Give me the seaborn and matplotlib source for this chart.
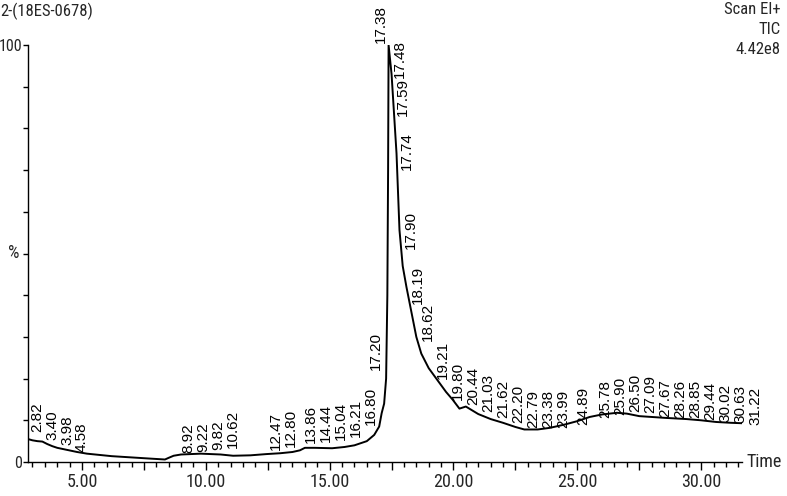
import matplotlib
matplotlib.use("Agg")
import matplotlib.pyplot as plt
import seaborn as sns
import numpy as np
import pandas as pd
from matplotlib.ticker import MultipleLocator, FuncFormatter
from matplotlib import font_manager as fm
from matplotlib.font_manager import FontProperties

# ---- data ----
time_min = [2.82, 3.0, 3.2, 3.4, 3.6, 3.8, 4.0, 4.4, 4.8, 5.2, 5.7, 6.2, 7.0, 7.8, 8.35,
            8.5, 8.7, 9.0, 9.8, 10.6, 11.1, 11.8, 12.45, 13.0, 13.5, 13.8, 14.0, 14.4,
            15.1, 15.6, 16.0, 16.5, 16.8, 17.0, 17.1, 17.2, 17.28, 17.33, 17.36, 17.38,
            17.5, 17.7, 17.82, 17.95, 18.1, 18.3, 18.5, 18.7, 19.0, 19.43, 19.7, 19.96,
            20.24, 20.5, 21.0, 21.5, 22.0, 22.5, 22.86, 23.4, 23.9, 24.5, 25.0, 25.5,
            26.0, 26.6, 27.0, 27.5, 28.0, 28.5, 29.4, 30.0, 30.6, 31.2, 31.65]
intensity_pct = [5.5, 5.2, 5.0, 4.9, 4.3, 3.8, 3.4, 2.9, 2.4, 2.0, 1.7, 1.4, 1.1, 0.8, 0.6,
                 1.0, 1.5, 1.8, 2.0, 1.8, 1.5, 1.6, 1.9, 2.1, 2.4, 2.8, 3.4, 3.4,
                 3.3, 3.6, 4.0, 5.0, 6.5, 8.5, 11.7, 14.0, 20.0, 40.0, 70.0, 100.0,
                 93.0, 74.0, 55.6, 47.0, 42.0, 36.0, 30.0, 26.0, 22.5, 19.0, 16.8, 15.0,
                 12.8, 13.3, 11.5, 10.3, 9.4, 8.4, 7.8, 7.8, 8.2, 9.0, 9.8, 10.8,
                 11.4, 11.8, 11.6, 11.0, 10.8, 10.6, 10.3, 10.0, 9.6, 9.4, 9.3]

peak_times = [2.82, 3.40, 3.98, 4.58, 8.92, 9.22, 9.82, 10.62, 12.47, 12.80, 13.86, 14.44,
              15.04, 16.21, 16.80, 17.20, 17.38, 17.48, 17.59, 17.74, 17.90, 18.19, 18.62,
              19.21, 19.80, 20.44, 21.03, 21.62, 22.20, 22.79, 23.38, 23.99, 24.89, 25.78,
              25.90, 26.50, 27.09, 27.67, 28.26, 28.85, 29.44, 30.02, 30.63, 31.22]
peak_heights = [7.2, 5.3, 4.1, 2.4, 2.2, 2.4, 2.9, 3.4, 2.9, 3.6, 4.6, 4.8,
                5.3, 6.0, 8.9, 22.0, 100.5, 92.0, 83.0, 70.0, 51.0, 38.0, 29.0,
                20.0, 14.9, 13.7, 12.0, 10.5, 9.4, 8.2, 8.2, 8.2, 8.9, 10.5,
                11.3, 12.0, 11.7, 10.8, 10.5, 10.5, 10.0, 9.6, 9.4, 8.9]

title_text = "2-(18ES-0678)"
header_lines = ["Scan EI+", "TIC", "4.42e8"]
x_label = "Time"
y_label = "%"

# ---- styling ----
sns.set_style("white")
plt.rcParams['font.family'] = ['Liberation Sans', 'DejaVu Sans']


def find_narrow():
    prefs = []
    for f in fm.fontManager.ttflist:
        nm = f.name
        st = str(f.stretch)
        is_narrow = ('Narrow' in nm or 'Condensed' in nm or 'condensed' in st
                     or st in ('semi-condensed', 'condensed', 'extra-condensed'))
        if not is_narrow:
            continue
        if f.style != 'normal' or f.weight not in (400, 'normal', 'regular'):
            continue
        rank = 0 if 'Liberation' in nm else (1 if 'Roboto' in nm else (2 if 'Open' in nm else 3))
        prefs.append((rank, f.fname))
    prefs.sort()
    return prefs[0][1] if prefs else None


narrow_path = find_narrow()


def nfont(size):
    if narrow_path:
        return FontProperties(fname=narrow_path, size=size)
    return FontProperties(family=['Liberation Sans', 'DejaVu Sans'], size=size * 0.85)


fig = plt.figure(figsize=(7.87, 4.96), dpi=100)
ax = fig.add_axes([28/787, 34/496, (742-28)/787, (462-45)/496])

df = pd.DataFrame({"time": time_min, "pct": intensity_pct})
sns.lineplot(data=df, x="time", y="pct", ax=ax, color="black", linewidth=1.4,
             estimator=None, sort=False)

ax.set_xlim(2.82, 31.65)
ax.set_ylim(0, 100)
ax.set_xlabel("")
ax.set_ylabel("")

for s in ["top", "right"]:
    ax.spines[s].set_visible(False)
for s in ["left", "bottom"]:
    ax.spines[s].set_color("black")
    ax.spines[s].set_linewidth(1.0)

ax.xaxis.set_major_locator(MultipleLocator(2.5))
ax.xaxis.set_minor_locator(MultipleLocator(0.5))
ax.xaxis.set_major_formatter(FuncFormatter(
    lambda v, p: f"{v:.2f}" if abs(v / 5 - round(v / 5)) < 1e-6 else ""))
ax.yaxis.set_major_locator(MultipleLocator(10))
ax.yaxis.set_major_formatter(FuncFormatter(
    lambda v, p: f"{int(round(v))}" if round(v) in (0, 100) else ""))

ax.tick_params(axis="x", which="major", direction="out", length=6, width=1,
               color="black", pad=2)
ax.tick_params(axis="x", which="minor", direction="out", length=3.5, width=1,
               color="black")
ax.tick_params(axis="y", which="major", direction="out", length=3.5, width=1,
               color="black", pad=0.5)
ax.tick_params(bottom=True, left=True, which="both")
for lab in ax.get_xticklabels():
    lab.set_fontproperties(nfont(13))
for lab in ax.get_yticklabels():
    lab.set_fontproperties(nfont(11.5))

ax.text(-0.012, 50, y_label, transform=ax.get_yaxis_transform(), ha="right",
        va="center", fontproperties=nfont(13))
ax.text(1.006, 0, x_label, transform=ax.transAxes, ha="left", va="center",
        fontproperties=nfont(13))

# peak labels
apex_t = peak_times[int(np.argmax(peak_heights))]
texts = []
for t, h in zip(peak_times, peak_heights):
    ha = "right" if 16.0 < t <= apex_t else "left"
    txt = ax.text(t, h, f"{t:.2f}", rotation=90, ha=ha, va="bottom", fontsize=11,
                  color="black", clip_on=False)
    texts.append((t, h, ha, txt))

fig.text(0.0, 0.995, title_text, ha="left", va="top", fontproperties=nfont(12))
for i, line in enumerate(header_lines):
    fig.text(0.992, 0.995 - i * 0.04, line, ha="right", va="top",
             fontproperties=nfont(12))

# nudge labels so neighbouring labels do not collide
fig.canvas.draw()
renderer = fig.canvas.get_renderer()
inv = ax.transData.inverted()
placed = []
for t, h, ha, txt in texts:
    bb = txt.get_window_extent(renderer)
    w = bb.width
    x0 = bb.x0 + 2 if ha == "left" else bb.x0 - 1
    for pb in placed:
        if (min(pb[3], bb.y1) - max(pb[2], bb.y0)) > 3 and x0 < pb[1] + 1 and x0 + w > pb[0]:
            x0 = pb[1] + 1
    if ha == "left":
        xd, _ = inv.transform((x0, bb.y0))
    else:
        xd, _ = inv.transform((x0 + w, bb.y0))
    txt.set_x(xd)
    placed.append((x0, x0 + w, bb.y0, bb.y1))

fig.savefig("out.png", dpi=100)
